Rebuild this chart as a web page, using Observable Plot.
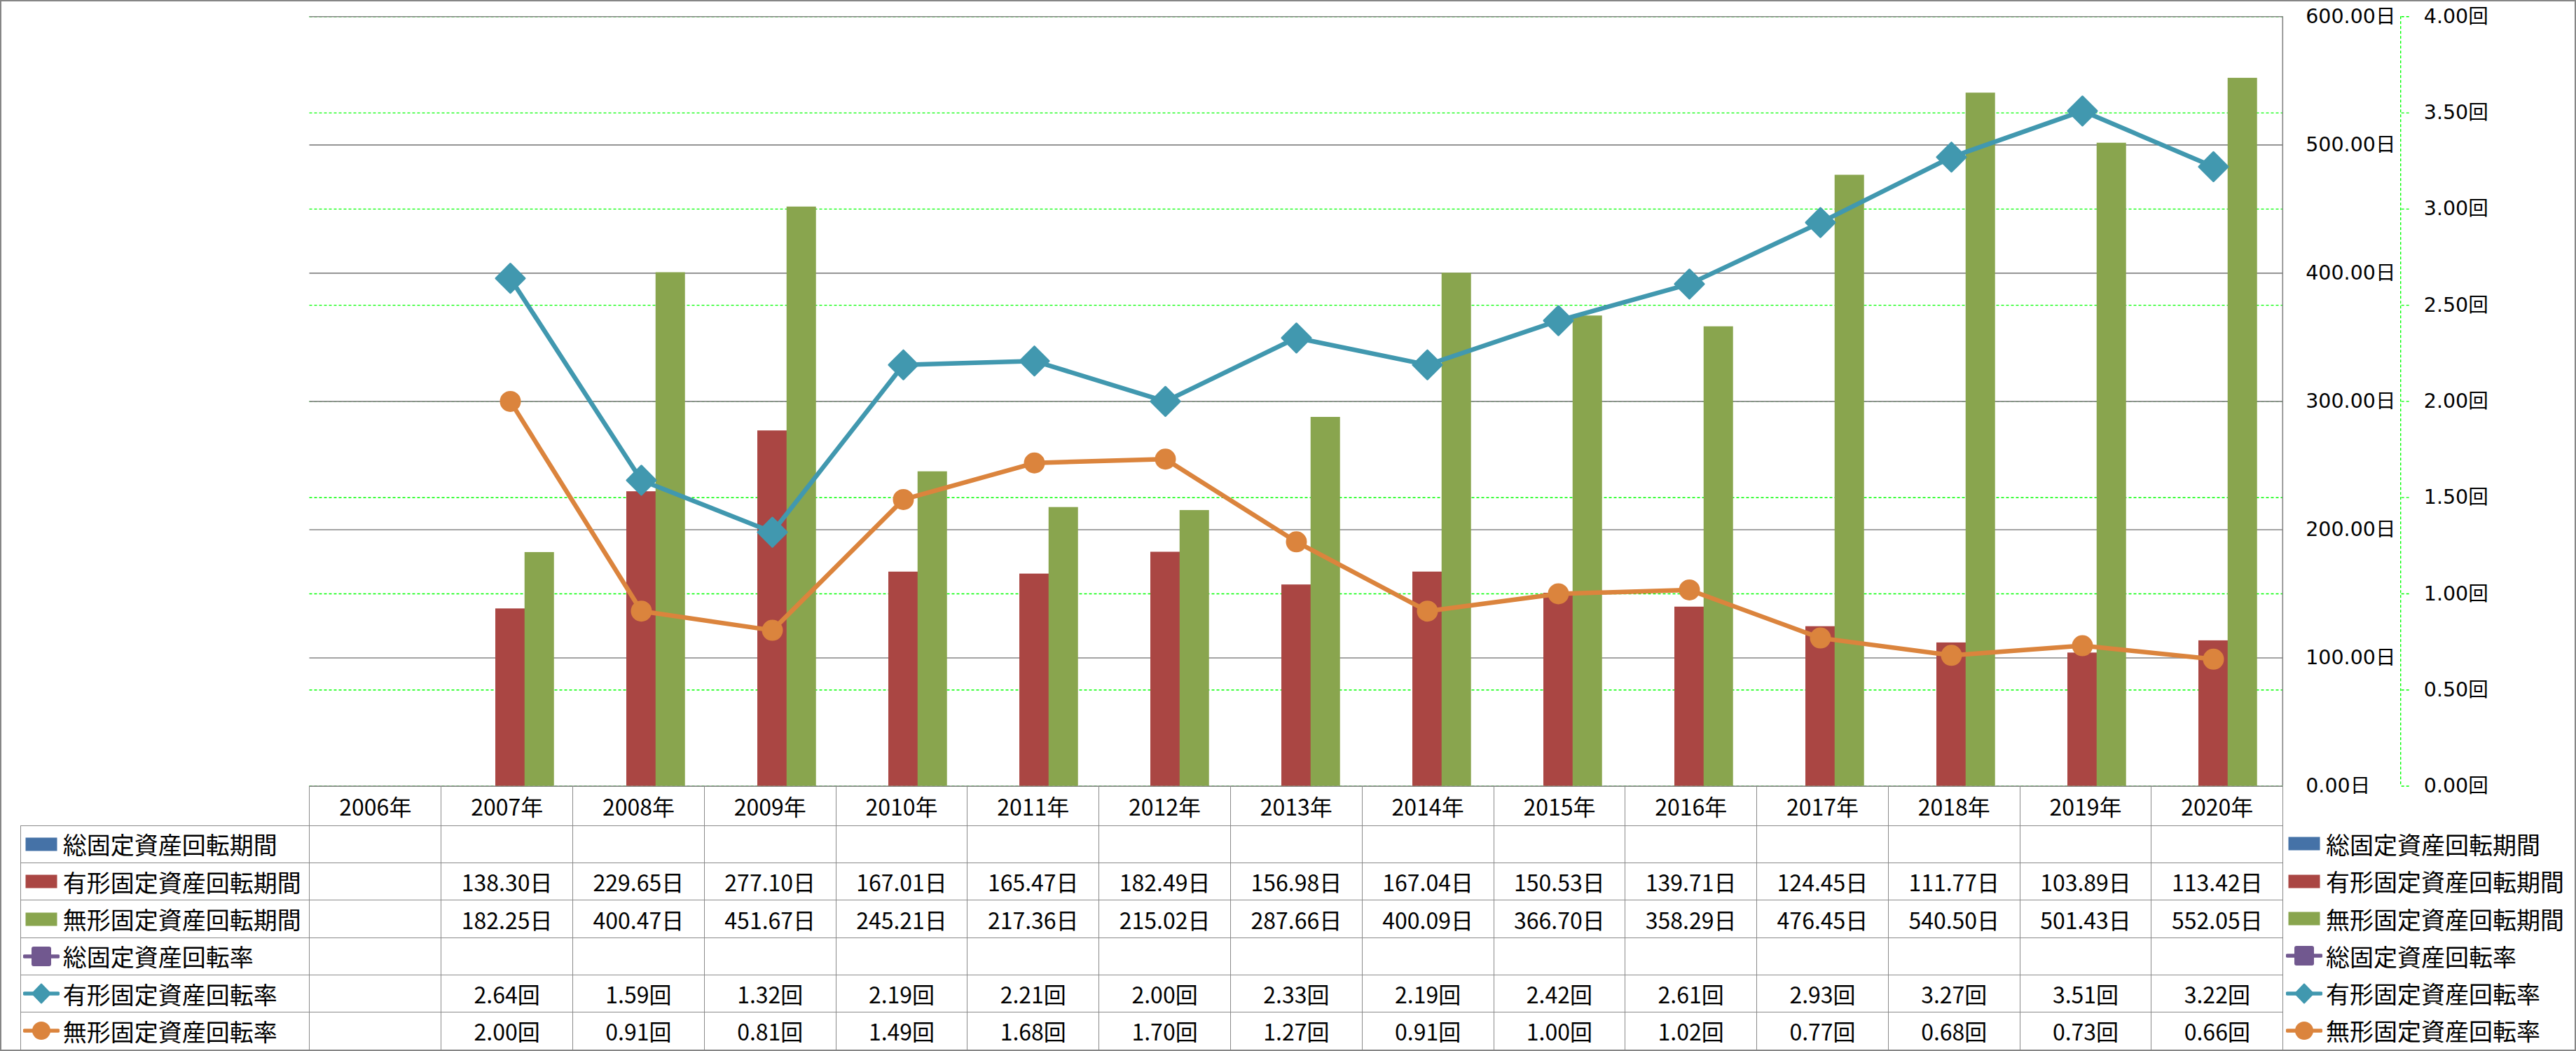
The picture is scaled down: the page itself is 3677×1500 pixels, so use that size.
<!DOCTYPE html>
<html>
<head>
<meta charset="utf-8">
<script src="https://cdn.jsdelivr.net/npm/d3@7"></script>
<script src="https://cdn.jsdelivr.net/npm/@observablehq/plot@0.6"></script>
<style>
html, body { margin: 0; padding: 0; background: #fff; }
#chart { position: relative; width: 3677px; height: 1500px; overflow: hidden; font-family: "Noto Sans CJK JP", sans-serif; color: #000; }
#border { position: absolute; left: 0; top: 0; width: 3677px; height: 1500px; box-sizing: border-box; border: 2px solid #868686; pointer-events: none; z-index: 10; }
#plot { position: absolute; left: 0; top: 0; }
#dtable { position: absolute; border-collapse: collapse; table-layout: fixed; font-family: "Noto Sans CJK JP", sans-serif; }
#dtable td { border-left: 1px solid #8a8a8a; border-right: 1px solid #8a8a8a; border-top: 1.5px solid #8a8a8a; border-bottom: 1.5px solid #8a8a8a; padding: 0; text-align: center; vertical-align: middle; font-size: 32px; white-space: nowrap; overflow: hidden; }
#dtable td.blank { border-top: none; border-left: none; }
#dtable td.lab { text-align: left; font-size: 34px; }
.lab-inner { display: flex; align-items: center; }
.key { width: 52px; height: 30px; flex: none; display: block; }
.ktext { margin-left: 5px; }
#legend { position: absolute; font-size: 34px; }
#legend .row { display: flex; align-items: center; }
</style>
</head>
<body>
<div id="chart">
  <div id="plot"></div>
  <table id="dtable"></table>
  <div id="legend"></div>
  <div id="border"></div>
</div>
<script>
// ---------------- data ----------------
const years = ["2006年","2007年","2008年","2009年","2010年","2011年","2012年","2013年","2014年","2015年","2016年","2017年","2018年","2019年","2020年"];
const totalDays      = [null,null,null,null,null,null,null,null,null,null,null,null,null,null,null];
const tangibleDays   = [null,138.30,229.65,277.10,167.01,165.47,182.49,156.98,167.04,150.53,139.71,124.45,111.77,103.89,113.42];
const intangibleDays = [null,182.25,400.47,451.67,245.21,217.36,215.02,287.66,400.09,366.70,358.29,476.45,540.50,501.43,552.05];
const totalRate      = [null,null,null,null,null,null,null,null,null,null,null,null,null,null,null];
const tangibleRate   = [null,2.64,1.59,1.32,2.19,2.21,2.00,2.33,2.19,2.42,2.61,2.93,3.27,3.51,3.22];
const intangibleRate = [null,2.00,0.91,0.81,1.49,1.68,1.70,1.27,0.91,1.00,1.02,0.77,0.68,0.73,0.66];
const seriesNames = ["総固定資産回転期間","有形固定資産回転期間","無形固定資産回転期間","総固定資産回転率","有形固定資産回転率","無形固定資産回転率"];
const dayTicks  = [0,100,200,300,400,500,600];
const rateTicks = [0,0.5,1,1.5,2,2.5,3,3.5,4];

// ---------------- styles ----------------
const colors = ["#4572A7","#AA4643","#89A54E","#71588F","#4198AF","#DB843D"];
const kinds  = ["bar","bar","bar","square","diamond","circle"];
const W = 3677;
const plotLeft = 441.5, plotRight = 3258.3, plotTop = 23.3, plotBottom = 1121.5, svgH = 1126;
const dayMax = 600, rateMax = 4, k = dayMax / rateMax;
const step = (plotRight - plotLeft) / years.length;
const barW = step / 4.5;   // Excel gap width 150%

const toRows = arr => years.map((year, i) => ({year, v: arr[i]})).filter(d => d.v != null);

const chart = Plot.plot({
  width: W,
  height: svgH,
  marginLeft: plotLeft,
  marginRight: W - plotRight,
  marginTop: plotTop,
  marginBottom: svgH - plotBottom,
  style: {fontFamily: "'DejaVu Sans', 'Noto Sans CJK JP', sans-serif", fontSize: "28.5px", background: "transparent", color: "#000", overflow: "visible"},
  x: {domain: years, paddingInner: 1 - 1/4.5, paddingOuter: (1 - 1/4.5) / 2, axis: null, label: null},
  y: {domain: [0, dayMax], axis: null, label: null},
  marks: [
    Plot.ruleY(rateTicks, {y: d => d * k, stroke: "#00ff00", strokeWidth: 1.4, strokeDasharray: "4,3"}),
    Plot.ruleY(dayTicks, {stroke: "#868686", strokeWidth: 1.6}),
    Plot.barY(toRows(totalDays), {x: "year", y: "v", fill: colors[0], dx: -barW}),
    Plot.barY(toRows(tangibleDays), {x: "year", y: "v", fill: colors[1]}),
    Plot.barY(toRows(intangibleDays), {x: "year", y: "v", fill: colors[2], dx: barW}),
    Plot.line(toRows(totalRate), {x: "year", y: d => d.v * k, stroke: colors[3], strokeWidth: 6.5}),
    Plot.line(toRows(tangibleRate), {x: "year", y: d => d.v * k, stroke: colors[4], strokeWidth: 6.5, strokeLinejoin: "round"}),
    Plot.line(toRows(intangibleRate), {x: "year", y: d => d.v * k, stroke: colors[5], strokeWidth: 6.5, strokeLinejoin: "round"}),
    Plot.dot(toRows(tangibleRate), {x: "year", y: d => d.v * k, symbol: "diamond2", r: 18.5, fill: colors[4], stroke: colors[4], strokeWidth: 3, strokeLinejoin: "round"}),
    Plot.dot(toRows(intangibleRate), {x: "year", y: d => d.v * k, symbol: "circle", r: 14, fill: colors[5], stroke: colors[5], strokeWidth: 2}),
    Plot.axisY({anchor: "right", label: null, ticks: dayTicks, tickSize: 0, tickPadding: 32.4, textAnchor: "start", tickFormat: d => d.toFixed(2) + "日"}),
    Plot.axisY({anchor: "right", label: null, ticks: rateTicks.map(t => t * k), dx: 168.4, tickSize: 11, tickPadding: 21.6, textAnchor: "start",
      stroke: "#00ff00", strokeWidth: 1.4, strokeDasharray: "4,3", fill: "#000",
      tickFormat: d => (d / k).toFixed(2) + "回"})
  ]
});
document.getElementById("plot").appendChild(chart);

// plot-area right border and secondary axis line
const xr = chart.scale("x").range, yr = chart.scale("y").range;
const svg = d3.select(chart);
svg.append("line").attr("x1", xr[1]).attr("x2", xr[1]).attr("y1", yr[1]).attr("y2", yr[0])
  .attr("stroke", "#868686").attr("stroke-width", 1.6);
svg.append("line").attr("x1", xr[1] + 168.4).attr("x2", xr[1] + 168.4).attr("y1", yr[1]).attr("y2", yr[0])
  .attr("stroke", "#00ff00").attr("stroke-width", 1.4).attr("stroke-dasharray", "4,3");

// ---------------- legend keys ----------------
function key(i) {
  const s = d3.create("svg").attr("class", "key").attr("width", 52).attr("height", 30);
  if (kinds[i] === "bar") {
    s.append("rect").attr("x", 3.5).attr("y", 5.5).attr("width", 45).attr("height", 19).attr("fill", colors[i]);
  } else {
    s.append("line").attr("x1", 2).attr("x2", 50).attr("y1", 15).attr("y2", 15)
      .attr("stroke", colors[i]).attr("stroke-width", 5.5).attr("stroke-linecap", "round");
    if (kinds[i] === "square") {
      s.append("rect").attr("x", 12).attr("y", 1).attr("width", 28).attr("height", 28).attr("rx", 3).attr("fill", colors[i]);
    } else if (kinds[i] === "diamond") {
      s.append("path").attr("d", "M26,1.5L39,15L26,28.5L13,15Z").attr("fill", colors[i]).attr("stroke", colors[i]).attr("stroke-width", 2).attr("stroke-linejoin", "round");
    } else {
      s.append("circle").attr("cx", 26).attr("cy", 15).attr("r", 13).attr("fill", colors[i]);
    }
  }
  return s.node();
}

// ---------------- data table ----------------
const rowH = 53.3, headH = 56.3, labW = plotLeft - 28.7;
const table = d3.select("#dtable").style("left", "28.7px").style("top", plotBottom + "px")
  .style("width", (labW + step * years.length) + "px");
const cg = table.append("colgroup");
cg.append("col").style("width", labW + "px");
years.forEach(() => cg.append("col").style("width", step + "px"));
const head = table.append("tr").style("height", headH + "px");
head.append("td").attr("class", "blank");
years.forEach(y => head.append("td").text(y));
const allData = [totalDays, tangibleDays, intangibleDays, totalRate, tangibleRate, intangibleRate];
const units = ["日","日","日","回","回","回"];
allData.forEach((arr, i) => {
  const tr = table.append("tr").style("height", rowH + "px");
  const lab = tr.append("td").attr("class", "lab").append("div").attr("class", "lab-inner").style("padding-left", "3px");
  lab.node().appendChild(key(i));
  lab.append("span").attr("class", "ktext").text(seriesNames[i]);
  arr.forEach(v => tr.append("td").text(v == null ? "" : v.toFixed(2) + units[i]));
});

// ---------------- right legend ----------------
const legend = d3.select("#legend").style("left", "3263px").style("top", (plotBottom + headH) + "px");
seriesNames.forEach((name, i) => {
  const r = legend.append("div").attr("class", "row").style("height", rowH + "px");
  r.node().appendChild(key(i));
  r.append("span").attr("class", "ktext").text(name);
});
</script>
</body>
</html>
